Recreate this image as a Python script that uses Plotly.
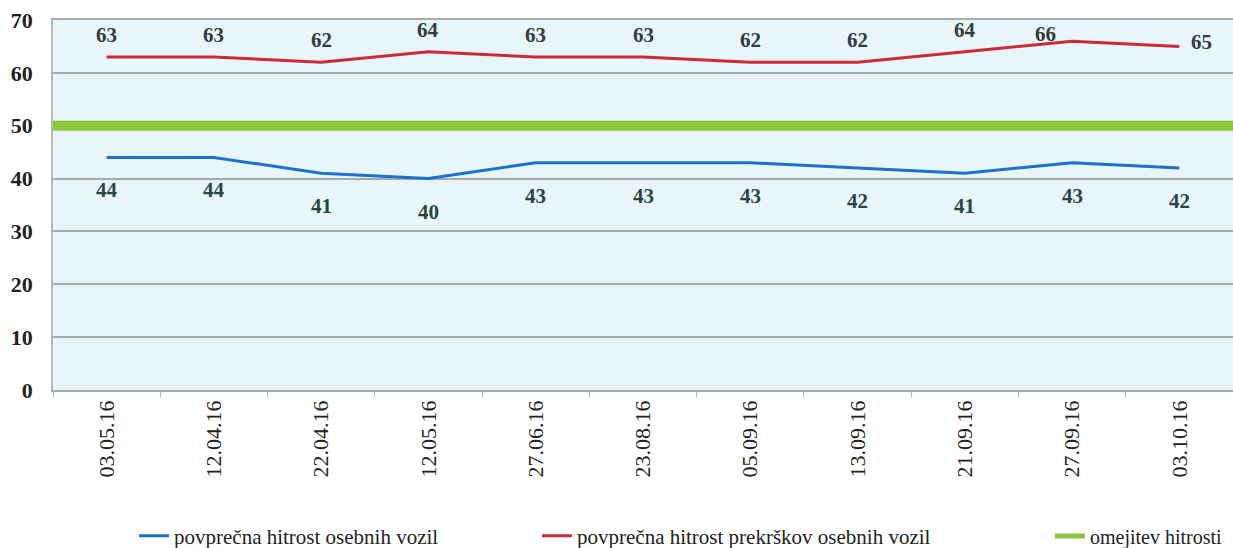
import plotly.graph_objects as go

dates = ["03.05.16", "12.04.16", "22.04.16", "12.05.16", "27.06.16", "23.08.16",
         "05.09.16", "13.09.16", "21.09.16", "27.09.16", "03.10.16"]
avg_speed = [44, 44, 41, 40, 43, 43, 43, 42, 41, 43, 42]
avg_violation_speed = [63, 63, 62, 64, 63, 63, 62, 62, 64, 66, 65]
speed_limit = [50] * len(dates)

names = ["povprečna hitrost osebnih vozil",
         "povprečna hitrost prekrškov osebnih vozil",
         "omejitev hitrosti"]

BLUE = "#1f6fcf"
RED = "#cc2a3c"
GREEN = "#8cc63f"
SERIF = "Liberation Serif"
GRID = "#a4adad"

W, H = 1233, 548

fig = go.Figure()

# speed limit line extended over the full plot width
fig.add_shape(type="line", xref="x domain", yref="y", x0=0, x1=1,
              y0=speed_limit[0], y1=speed_limit[0],
              line=dict(color=GREEN, width=10), layer="above")

fig.add_trace(go.Scatter(x=dates, y=avg_speed, mode="lines", name=names[0],
                         line=dict(color=BLUE, width=3), legend="legend"))
fig.add_trace(go.Scatter(x=dates, y=avg_violation_speed, mode="lines", name=names[1],
                         line=dict(color=RED, width=3), legend="legend2"))
fig.add_trace(go.Scatter(x=dates, y=speed_limit, mode="lines", name=names[2],
                         line=dict(color=GREEN, width=5), legend="legend3"))

annotations = []
for i, (d, v) in enumerate(zip(dates, avg_violation_speed)):
    xs, ys = 0, 22
    if i == len(dates) - 2:
        xs, ys = -27, 7
    elif i == len(dates) - 1:
        xs, ys = 22, 4
    annotations.append(dict(x=d, y=v, text="<b>%d</b>" % v, showarrow=False,
                            xshift=xs, yshift=ys,
                            font=dict(family=SERIF, size=21, color="#333b3d")))
for d, v in zip(dates, avg_speed):
    annotations.append(dict(x=d, y=v, text="<b>%d</b>" % v, showarrow=False,
                            yshift=-33,
                            font=dict(family=SERIF, size=21, color="#2a4640")))

legend_common = dict(orientation="h", yref="container", yanchor="middle", y=12 / H,
                     xref="container", xanchor="left",
                     bgcolor="rgba(0,0,0,0)",
                     itemwidth=30)

fig.update_layout(
    width=W, height=H,
    margin=dict(l=53, r=0, t=20, b=158),
    paper_bgcolor="white",
    plot_bgcolor="#e8f6fa",
    showlegend=True,
    annotations=annotations,
    legend=dict(**legend_common, x=134 / W,
                font=dict(family=SERIF, size=21, color="#222")),
    legend2=dict(**legend_common, x=537 / W,
                 font=dict(family=SERIF, size=21, color="#222")),
    legend3=dict(**legend_common, x=1050 / W,
                 font=dict(family=SERIF, size=20, color="#222")),
    xaxis=dict(type="category", tickangle=-90, tickson="boundaries",
               ticks="outside", ticklen=5, tickcolor="#b0b8b8",
               showline=True, linecolor=GRID, linewidth=1.5, mirror=True,
               showgrid=False, automargin=False,
               tickfont=dict(family=SERIF, size=22, color="#222"),
               range=[-0.5, len(dates) - 0.5]),
    yaxis=dict(range=[0, 70], dtick=10, showgrid=True, gridcolor=GRID,
               gridwidth=1.5, showline=True, linecolor="#b0b8b8", linewidth=1.5,
               ticks="", zeroline=False, automargin=False, ticklabelstandoff=14,
               ticklabeloverflow="allow",
               tickfont=dict(family=SERIF, size=22, color="#222", weight="bold")),
)

fig.write_html("out.html", config={"displayModeBar": False},
               post_script="document.body.style.margin='0';document.body.style.overflow='hidden';")
